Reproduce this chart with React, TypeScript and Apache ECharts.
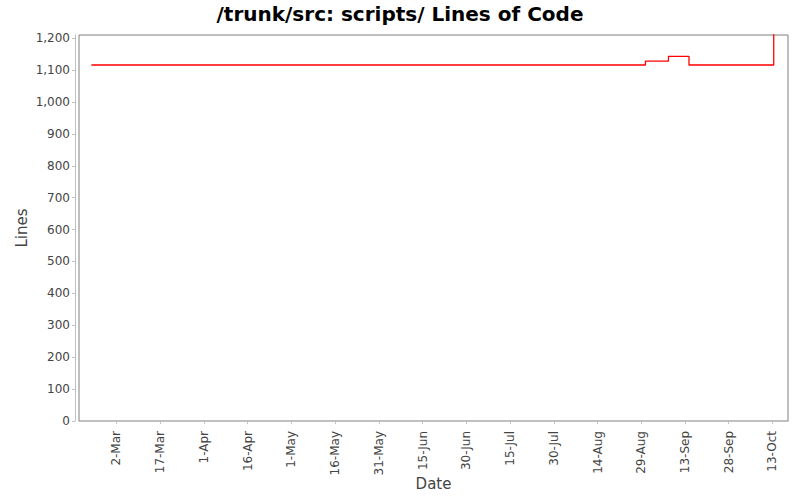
import React, { useEffect, useRef } from 'react';
import * as echarts from 'echarts';

// step points of the lines-of-code series (UTC)
const pointDates = [
    '2007-02-21 10:00',
    '2007-08-30 10:30',
    '2007-09-07 08:00',
    '2007-09-14 09:00',
    '2007-10-13 10:30',
];
const pointLines = [1116, 1128, 1143, 1116, 1260];

// x tick positions, every 15 days
const tickDates = [
    '2007-03-02', '2007-03-17', '2007-04-01', '2007-04-16', '2007-05-01',
    '2007-05-16', '2007-05-31', '2007-06-15', '2007-06-30', '2007-07-15',
    '2007-07-30', '2007-08-14', '2007-08-29', '2007-09-13', '2007-09-28',
    '2007-10-13',
];
const monthNames = ['Jan', 'Feb', 'Mar', 'Apr', 'May', 'Jun', 'Jul', 'Aug', 'Sep', 'Oct', 'Nov', 'Dec'];

const xStart = '2007-02-17 04:00';
const xEnd = '2007-10-18 08:00';

const toMs = (s: string) => Date.parse((s.length > 10 ? s.replace(' ', 'T') : s + 'T00:00') + 'Z');

const FONT = '"DejaVu Sans", sans-serif';

const App: React.FC = () => {
    const chartRef = useRef<HTMLDivElement>(null);

    useEffect(() => {
        if (!chartRef.current) return;
        const chart = echarts.init(chartRef.current, null, { renderer: 'svg' });

        const option = {
            animation: false,
            backgroundColor: '#ffffff',
            title: {
                text: '/trunk/src: scripts/ Lines of Code',
                left: 'center',
                top: -1,
                textStyle: { fontFamily: FONT, fontSize: 20, fontWeight: 'bold', color: '#000' },
            },
            grid: {
                left: 79,
                right: 12,
                top: 35,
                bottom: 79,
                outerBoundsMode: 'none',
                containLabel: false,
                show: true,
                borderColor: '#808080',
                borderWidth: 1,
                backgroundColor: '#ffffff',
            },
            xAxis: {
                type: 'value',
                min: toMs(xStart),
                max: toMs(xEnd),
                offset: 4,
                name: 'Date',
                nameLocation: 'middle',
                nameGap: 51,
                nameMoveOverlap: false,
                nameTextStyle: { fontFamily: FONT, fontSize: 15, color: '#444' },
                axisLine: { show: true, lineStyle: { color: '#c0c0c0', width: 1 } },
                axisTick: {
                    show: true,
                    length: 3,
                    lineStyle: { color: '#c0c0c0' },
                    customValues: tickDates.map(toMs),
                },
                axisLabel: {
                    rotate: 90,
                    margin: 6,
                    fontFamily: FONT,
                    fontSize: 12,
                    color: '#444',
                    customValues: tickDates.map(toMs),
                    formatter: (v: number) => {
                        const d = new Date(v);
                        return d.getUTCDate() + '-' + monthNames[d.getUTCMonth()];
                    },
                },
                splitLine: { show: false },
            },
            yAxis: {
                type: 'value',
                min: 0,
                max: 1210,
                interval: 100,
                offset: 4,
                name: 'Lines',
                nameLocation: 'middle',
                nameGap: 46,
                nameMoveOverlap: false,
                nameTextStyle: { fontFamily: FONT, fontSize: 15, color: '#444' },
                axisLine: { show: true, lineStyle: { color: '#c0c0c0', width: 1 } },
                axisTick: { show: true, length: 3, lineStyle: { color: '#c0c0c0' } },
                axisLabel: {
                    margin: 5,
                    fontFamily: FONT,
                    fontSize: 12,
                    color: '#444',
                    formatter: (v: number) => v.toLocaleString('en-US'),
                },
                splitLine: { show: false },
            },
            series: [
                {
                    type: 'line',
                    step: 'end',
                    symbol: 'none',
                    clip: true,
                    data: pointDates.map((d, i) => [toMs(d), pointLines[i]]),
                    lineStyle: { color: '#ff0000', width: 1.3 },
                },
            ],
        };

        chart.setOption(option);

        return () => {
            chart.dispose();
        };
    }, []);

    return (
        <div
            ref={chartRef}
            style={{ position: 'absolute', left: 0, top: 0, width: '800px', height: '500px' }}
        />
    );
};

export default App;
